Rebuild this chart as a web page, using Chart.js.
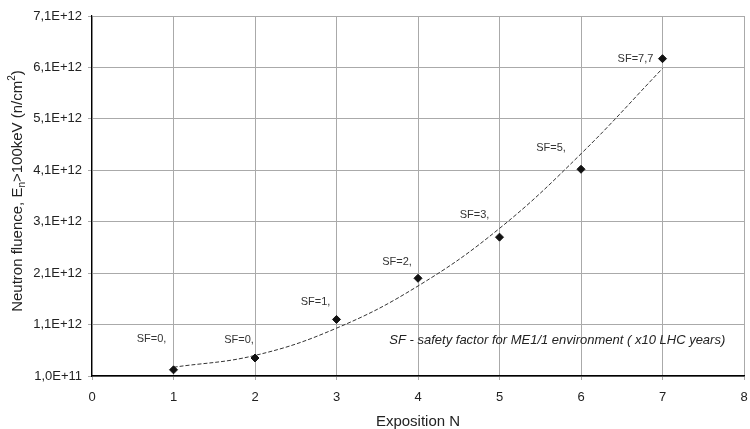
<!DOCTYPE html>
<html>
<head>
<meta charset="utf-8">
<script src="https://cdn.jsdelivr.net/npm/chart.js@4"></script>
<style>
html, body { margin: 0; padding: 0; background: #fff; }
#wrap { width: 750px; height: 429px; }
</style>
</head>
<body>
<div id="wrap"><canvas id="fluenceChart"></canvas></div>
<script>
// Measured points
const exposition = [1, 2, 3, 4, 5, 6, 7];
const fluence = [2.2e11, 4.5e11, 1.2e12, 2.0e12, 2.8e12, 4.12e12, 6.27e12];
const sfLabels = ['SF=0,', 'SF=0,', 'SF=1,', 'SF=2,', 'SF=3,', 'SF=5,', 'SF=7,7'];

// Trend curve
const trendX = [1, 2, 3, 4, 5, 6, 7];
const trendY = [2.7e11, 5.0e11, 1.03e12, 1.85e12, 2.97e12, 4.42e12, 6.08e12];

// Axis ticks
const xTicks = [0, 1, 2, 3, 4, 5, 6, 7, 8];
const yTicks = [1.0e11, 1.1e12, 2.1e12, 3.1e12, 4.1e12, 5.1e12, 6.1e12, 7.1e12];

const noteText = 'SF - safety factor for ME1/1 environment ( x10 LHC years)';

// label offsets in px relative to each point (style, not data)
const labelOffsets = [[-22, -31], [-16, -18], [-21, -17], [-21, -16], [-25, -22], [-30, -21], [-27, 0]];

const FONT = "'Liberation Sans', Arial, sans-serif";

// Draws titles, SF labels and the note
const annotations = {
    id: 'annotations',
    afterDraw(chart) {
        const ctx = chart.ctx;
        const xs = chart.scales.x;
        const ys = chart.scales.y;
        const area = chart.chartArea;
        ctx.save();

        // SF labels
        ctx.fillStyle = '#333';
        ctx.font = '11px ' + FONT;
        ctx.textAlign = 'center';
        ctx.textBaseline = 'middle';
        exposition.forEach((x, i) => {
            const px = xs.getPixelForValue(x) + labelOffsets[i][0];
            const py = ys.getPixelForValue(fluence[i]) + labelOffsets[i][1];
            ctx.fillText(sfLabels[i], px, py);
        });

        // note
        ctx.font = 'italic 13px ' + FONT;
        ctx.textAlign = 'right';
        ctx.fillStyle = '#222';
        ctx.fillText(noteText, xs.getPixelForValue(7.77), ys.getPixelForValue(0.8e12));

        // x title
        ctx.font = '15px ' + FONT;
        ctx.textAlign = 'center';
        ctx.fillText('Exposition N', (area.left + area.right) / 2, 422);

        // y title with sub/superscript
        const parts = [
            { t: 'Neutron fluence, E', size: 15, dy: 0 },
            { t: 'n', size: 10, dy: 4 },
            { t: '>100keV (n/cm', size: 15, dy: 0 },
            { t: '2', size: 10, dy: -6 },
            { t: ')', size: 15, dy: 0 }
        ];
        let total = 0;
        parts.forEach(p => {
            ctx.font = p.size + 'px ' + FONT;
            p.w = ctx.measureText(p.t).width;
            total += p.w;
        });
        ctx.translate(18, (area.top + area.bottom) / 2 - 5);
        ctx.rotate(-Math.PI / 2);
        ctx.textAlign = 'left';
        let cx = -total / 2;
        parts.forEach(p => {
            ctx.font = p.size + 'px ' + FONT;
            ctx.fillText(p.t, cx, p.dy);
            cx += p.w;
        });
        ctx.restore();
    }
};

new Chart(document.getElementById('fluenceChart'), {
    type: 'scatter',
    data: {
        datasets: [
            {
                label: 'Measured',
                data: exposition.map((x, i) => ({ x: x, y: fluence[i] })),
                pointStyle: 'rectRot',
                pointRadius: 4,
                backgroundColor: '#111',
                borderColor: '#111',
                order: 1
            },
            {
                label: 'Trend',
                data: trendX.map((x, i) => ({ x: x, y: trendY[i] })),
                showLine: true,
                pointRadius: 0,
                borderColor: '#333',
                borderWidth: 1,
                borderDash: [4, 2],
                tension: 0.4,
                fill: false,
                order: 2
            }
        ]
    },
    options: {
        responsive: true,
        maintainAspectRatio: false,
        animation: false,
        layout: { padding: { top: 16, right: 0, left: 0, bottom: 0 } },
        plugins: {
            legend: { display: false },
            tooltip: { enabled: false }
        },
        scales: {
            x: {
                type: 'linear',
                min: 0,
                max: 8,
                afterBuildTicks: scale => { scale.ticks = xTicks.map(v => ({ value: v })); },
                afterFit: scale => { scale.height = 53; scale.paddingRight = 6; },
                grid: { color: '#aaa', lineWidth: 1, tickLength: 4 },
                border: { color: '#000', width: 1.5 },
                ticks: {
                    color: '#222',
                    padding: 10,
                    font: { family: FONT, size: 13 }
                }
            },
            y: {
                type: 'linear',
                min: 1.0e11,
                max: 7.1e12,
                afterBuildTicks: scale => { scale.ticks = yTicks.map(v => ({ value: v })); },
                afterFit: scale => { scale.width = 92; },
                grid: { color: '#aaa', lineWidth: 1, tickLength: 4 },
                border: { color: '#000', width: 1.2 },
                ticks: {
                    color: '#222',
                    padding: 6,
                    font: { family: FONT, size: 13 },
                    callback: v => v.toExponential(1).replace('.', ',').toUpperCase()
                }
            }
        }
    },
    plugins: [annotations]
});
</script>
</body>
</html>
